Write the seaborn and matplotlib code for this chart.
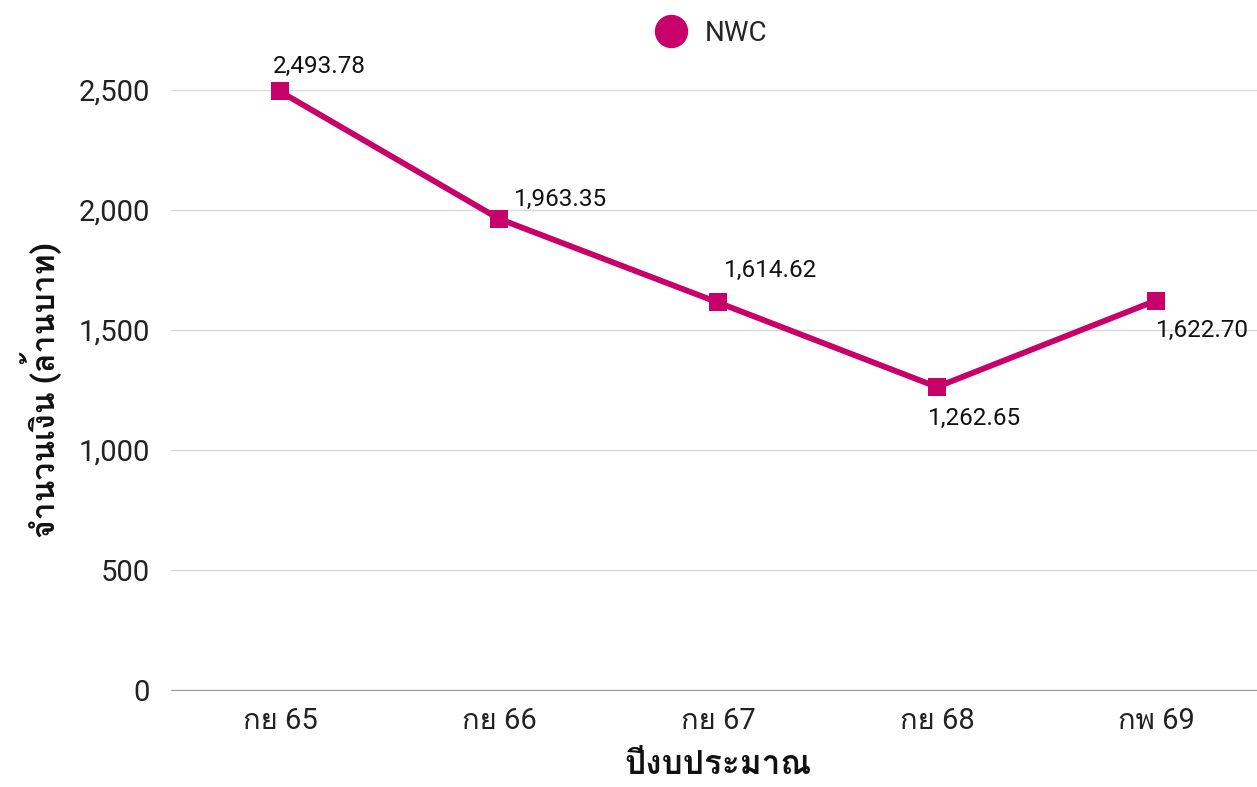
import matplotlib
matplotlib.use("Agg")
import matplotlib.pyplot as plt
from matplotlib import font_manager
from matplotlib.ticker import FuncFormatter, MultipleLocator
import pandas as pd
import seaborn as sns

# ---------------------------------------------------------------------
# Data
# ---------------------------------------------------------------------
periods = ["กย 65", "กย 66", "กย 67", "กย 68", "กพ 69"]
nwc = [2493.78, 1963.35, 1614.62, 1262.65, 1622.70]
series_name = "NWC"
y_label = "จำนวนเงิน (ล้านบาท)"
x_label = "ปีงบประมาณ"

df = pd.DataFrame({"period": periods, "value": nwc, "series": series_name})

# ---------------------------------------------------------------------
# Fonts: Roboto for latin/digits, fall back to any installed Thai font
# ---------------------------------------------------------------------
thai_fonts = []
try:
    from fontTools.ttLib import TTFont
    seen = set()
    for fe in font_manager.fontManager.ttflist:
        if fe.name in seen:
            continue
        try:
            tt = TTFont(fe.fname, fontNumber=0, lazy=True)
            cmap = tt.getBestCmap() or {}
            if 0x0E01 in cmap and 0x0E33 in cmap:
                thai_fonts.append(fe.name)
                seen.add(fe.name)
        except Exception:
            pass
except Exception:
    pass

sns.set_style("white")
plt.rcParams["font.family"] = ["Roboto"] + thai_fonts + ["DejaVu Sans"]

COLOR = "#C8006A"

fig = plt.figure(figsize=(12.57, 7.87), dpi=100)
ax = fig.add_axes([170.5 / 1257, 97 / 787, 1095 / 1257, 600 / 787])

sns.lineplot(data=df, x="period", y="value", ax=ax, color=COLOR,
             linewidth=4.2, marker="s", markersize=13, markeredgewidth=0,
             sort=False, legend=False, clip_on=False)

ax.set_xlim(-0.5, 4.5)
ax.set_ylim(0, 2500)
ax.yaxis.set_major_locator(MultipleLocator(500))
ax.yaxis.set_major_formatter(FuncFormatter(lambda v, p: f"{v:,.0f}"))
ax.grid(axis="y", color="#D9D9D9", linewidth=1)
ax.set_axisbelow(True)
for s in ["top", "right", "left"]:
    ax.spines[s].set_visible(False)
ax.spines["bottom"].set_color("#999999")
ax.tick_params(axis="both", length=0, labelcolor="#222222")
ax.tick_params(axis="x", pad=12, labelsize=21)
ax.tick_params(axis="y", pad=15, labelsize=21)

ax.set_xlabel(x_label, fontsize=24, color="#111111", labelpad=10,
              fontweight="semibold")
ax.set_ylabel(y_label, fontsize=23, color="#111111", labelpad=12,
              fontweight="semibold")

# data labels
offsets = [(39, 25), (62, 19), (53, 32), (38, -32), (46, -30)]
for i, (v, off) in enumerate(zip(nwc, offsets)):
    ax.annotate(f"{v:,.2f}", (i, v), xytext=off, textcoords="offset pixels",
                ha="center", va="center", fontsize=17.5, color="#111111",
                annotation_clip=False)

# legend
handle = plt.Line2D([], [], marker="o", color=COLOR, linestyle="none",
                    markersize=23)
fig.legend([handle], [series_name], loc="center", bbox_to_anchor=(0.561, 0.958),
           frameon=False, fontsize=20, handletextpad=0.2)

fig.savefig("out.png", dpi=100)
